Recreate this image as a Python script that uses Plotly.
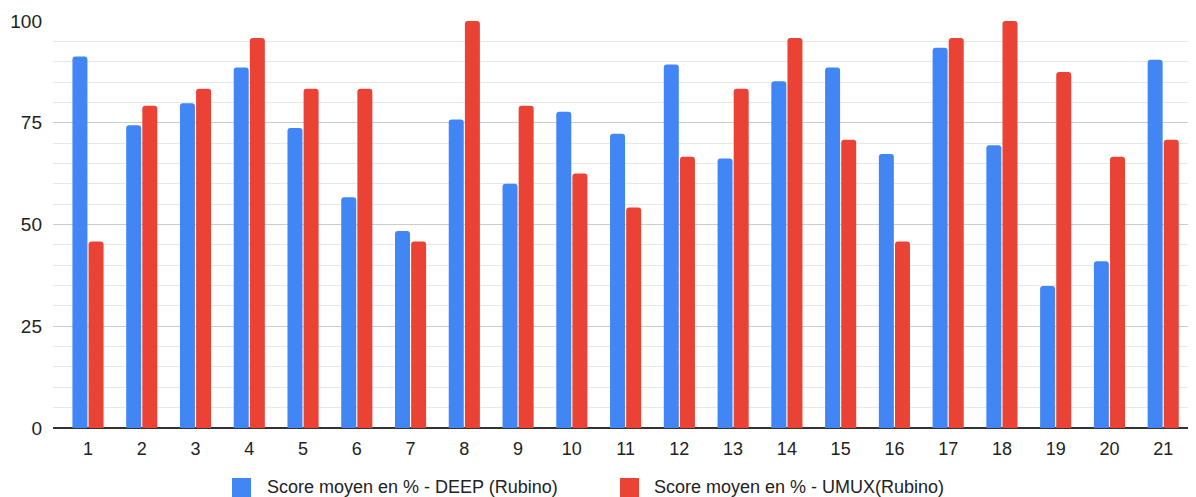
import plotly.graph_objects as go

categories = [str(i) for i in range(1, 22)]
deep_scores = [91.3, 74.4, 79.8, 88.6, 73.7, 56.7, 48.4, 75.8, 60.0, 77.7, 72.3,
               89.3, 66.2, 85.2, 88.6, 67.3, 93.4, 69.5, 34.9, 41.0, 90.5]
umux_scores = [45.83, 79.17, 83.33, 95.83, 83.33, 83.33, 45.83, 100.0, 79.17, 62.5, 54.17,
               66.67, 83.33, 95.83, 70.83, 45.83, 95.83, 100.0, 87.5, 66.67, 70.83]
series_names = ["Score moyen en % - DEEP (Rubino)", "Score moyen en % - UMUX(Rubino)"]
series_colors = ["#4285F4", "#EA4335"]
y_ticks = [0, 25, 50, 75, 100]

FONT = "Arial, Liberation Sans, sans-serif"
TXT = "#222222"

xs = list(range(1, len(categories) + 1))

fig = go.Figure()
fig.add_trace(go.Bar(x=xs, y=deep_scores, name=series_names[0],
                     marker=dict(color=series_colors[0], line=dict(width=0)),
                     showlegend=False))
fig.add_trace(go.Bar(x=xs, y=umux_scores, name=series_names[1],
                     marker=dict(color=series_colors[1], line=dict(width=0)),
                     showlegend=False))

# page body has an 8px margin; work in window pixels and convert
OFF = 8
W, H = 1196, 497
plot_left, plot_right, plot_top, plot_bottom = 53, 1196, 21, 428
L = plot_left - OFF
T = plot_top - OFF
R = (W + OFF) - plot_right - OFF
B = (H + OFF) - plot_bottom - OFF
pw = plot_right - plot_left
ph = plot_bottom - plot_top


def px_to_paper_x(p):
    return (p - plot_left) / pw


def px_to_paper_y(p):
    return (plot_bottom - p) / ph


# manual legend (larger squares like the reference)
legend_items = [(232, 265), (620, 652)]
for (sx, tx), name, col in zip(legend_items, series_names, series_colors):
    fig.add_shape(type="rect", xref="paper", yref="paper",
                  x0=px_to_paper_x(sx), x1=px_to_paper_x(sx + 19),
                  y0=px_to_paper_y(478), y1=px_to_paper_y(500),
                  fillcolor=col, line=dict(width=0))
    fig.add_annotation(xref="paper", yref="paper", x=px_to_paper_x(tx),
                       y=px_to_paper_y(487), text=name, showarrow=False,
                       xanchor="left", yanchor="middle",
                       font=dict(family=FONT, size=18, color=TXT))

fig.update_layout(
    width=W, height=H,
    margin=dict(l=L, r=R + OFF, t=T, b=B + OFF, autoexpand=False),
    paper_bgcolor="white", plot_bgcolor="white",
    barmode="group", bargap=0.4, bargroupgap=0.07,
    barcornerradius=3,
    font=dict(family=FONT, size=18, color=TXT),
)
fig.update_xaxes(
    range=[0.349, 21.61], automargin=False,
    tickmode="array", tickvals=xs, ticktext=categories,
    showgrid=False, zeroline=False, ticks="",
    showline=False,
    tickfont=dict(family=FONT, size=18, color=TXT),
    ticklabelstandoff=8,
)
fig.update_yaxes(
    range=[0, 100], automargin=False,
    tickmode="array", tickvals=y_ticks,
    showgrid=True, gridcolor="#cccccc", gridwidth=1,
    minor=dict(dtick=5, showgrid=True, gridcolor="#e8e8e8", gridwidth=1),
    zeroline=True, zerolinecolor="#333333", zerolinewidth=1.5,
    ticks="", ticklabelstandoff=10,
    tickfont=dict(family=FONT, size=19, color=TXT),
)

fig.write_html("out.html")
